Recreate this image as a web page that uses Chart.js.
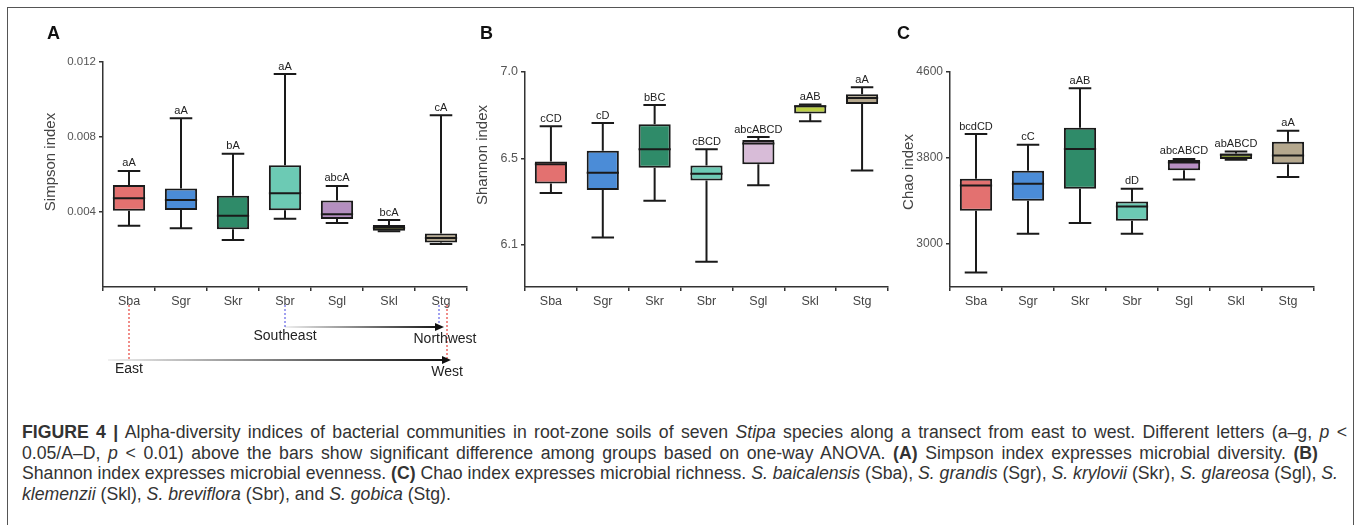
<!DOCTYPE html>
<html>
<head>
<meta charset="utf-8">
<script src="https://cdn.jsdelivr.net/npm/chart.js@4.4.1/dist/chart.umd.min.js"></script>
<style>
body { margin: 0; background: #fff; width: 1360px; height: 525px; overflow: hidden; position: relative; font-family: "Liberation Sans", Arial, sans-serif; }
#frame { position: absolute; left: 7px; top: 7px; width: 1347px; height: 560px; border: 1.5px solid #555; box-sizing: border-box; }
canvas { position: absolute; top: 0; }
.tag { position: absolute; top: 23px; font: bold 18px "Liberation Sans", Arial, sans-serif; color: #111; }
#caption { position: absolute; left: 22px; top: 422px; font-family: "Liberation Sans", Arial, sans-serif; font-size: 15px; color: #333; line-height: 20.5px; white-space: nowrap; }
#caption .cl { display: block; width: max-content; }
</style>
</head>
<body>
<div id="frame"></div>
<canvas id="chartA" width="490" height="400" style="left:0px"></canvas>
<canvas id="chartB" width="425" height="320" style="left:475px"></canvas>
<canvas id="chartC" width="450" height="320" style="left:900px"></canvas>
<div class="tag" style="left:47px">A</div>
<div class="tag" style="left:480px">B</div>
<div class="tag" style="left:897px">C</div>
<div id="caption">
<div class="cl" data-w="1325"><b>FIGURE 4 |</b> Alpha-diversity indices of bacterial communities in root-zone soils of seven <i>Stipa</i> species along a transect from east to west. Different letters (a–g, <i>p</i> &lt;</div>
<div class="cl" data-w="1296">0.05/A–D, <i>p</i> &lt; 0.01) above the bars show significant difference among groups based on one-way ANOVA. <b>(A)</b> Simpson index expresses microbial diversity. <b>(B)</b></div>
<div class="cl" data-w="1316">Shannon index expresses microbial evenness. <b>(C)</b> Chao index expresses microbial richness. <i>S. baicalensis</i> (Sba), <i>S. grandis</i> (Sgr), <i>S. krylovii</i> (Skr), <i>S. glareosa</i> (Sgl), <i>S.</i></div>
<div class="cl"><i>klemenzii</i> (Skl), <i>S. breviflora</i> (Sbr), and <i>S. gobica</i> (Stg).</div>
</div>
<script>
const groups = ["Sba", "Sgr", "Skr", "Sbr", "Sgl", "Skl", "Stg"];

// A - Simpson
const simpsonMin = [0.00327, 0.00313, 0.00251, 0.00364, 0.00341, 0.00297, 0.00229];
const simpsonQ1 = [0.00407, 0.00411, 0.00308, 0.0041, 0.00363, 0.003, 0.00238];
const simpsonMed = [0.00473, 0.00464, 0.0038, 0.005, 0.00388, 0.00316, 0.00261];
const simpsonQ3 = [0.00544, 0.00526, 0.00487, 0.0065, 0.00462, 0.00331, 0.00286];
const simpsonMax = [0.00619, 0.009, 0.00711, 0.01136, 0.00539, 0.00357, 0.00916];
const simpsonLetters = ["aA", "aA", "bA", "aA", "abcA", "bcA", "cA"];
const simpsonTicks = [0.004, 0.008, 0.012];
const simpsonTickLabels = ["0.004", "0.008", "0.012"];

// B - Shannon
const shannonMin = [6.369, 6.137, 6.329, 6.011, 6.409, 6.743, 6.487];
const shannonQ1 = [6.418, 6.385, 6.501, 6.434, 6.519, 6.783, 6.833];
const shannonMed = [6.519, 6.475, 6.597, 6.47, 6.627, 6.821, 6.864];
const shannonQ3 = [6.533, 6.59, 6.727, 6.512, 6.645, 6.826, 6.884];
const shannonMax = [6.717, 6.734, 6.828, 6.597, 6.661, 6.83, 6.92];
const shannonLetters = ["cCD", "cD", "bBC", "cBCD", "abcABCD", "aAB", "aA"];
const shannonTicks = [6.1, 6.55, 7.0];
const shannonTickLabels = ["6.1", "6.5", "7.0"];

// C - Chao
const chaoMin = [2736, 3096, 3195, 3096, 3601, 3784, 3623];
const chaoQ1 = [3310, 3403, 3514, 3217, 3685, 3791, 3741];
const chaoMed = [3545, 3561, 3884, 3350, 3759, 3831, 3824];
const chaoQ3 = [3607, 3682, 4082, 3396, 3781, 3843, 3952];
const chaoMax = [4023, 3924, 4448, 3514, 3791, 3861, 4054];
const chaoLetters = ["bcdCD", "cC", "aAB", "dD", "abcABCD", "abABCD", "aA"];
const chaoTicks = [3000, 3800, 4600];
const chaoTickLabels = ["3000", "3800", "4600"];

const colorsA = ["#e37170", "#4b8cd7", "#2f8b69", "#6ccab4", "#b48fc0", "#c8d84c", "#b5a88e"];
const colorsB = ["#e37170", "#4b8cd7", "#2f8b69", "#6ccab4", "#d8bcd8", "#bccf45", "#b5a88e"];
const colorsC = ["#e37170", "#4b8cd7", "#2f8b69", "#6ccab4", "#b890c4", "#8a9a3c", "#b5a88e"];

const ink = "#1a1a1a";
const sans = "Liberation Sans";

function dotted(ctx, x, y0, y1, color) {
    ctx.save();
    ctx.strokeStyle = color;
    ctx.lineWidth = 1.3;
    ctx.setLineDash([2, 2]);
    ctx.beginPath();
    ctx.moveTo(x, y0);
    ctx.lineTo(x, y1);
    ctx.stroke();
    ctx.restore();
}

function arrow(ctx, x0, x1, y) {
    ctx.save();
    const g = ctx.createLinearGradient(x0, 0, x1, 0);
    g.addColorStop(0, "rgba(0,0,0,0.06)");
    g.addColorStop(1, "#111");
    ctx.strokeStyle = g;
    ctx.lineWidth = 2;
    ctx.beginPath();
    ctx.moveTo(x0, y);
    ctx.lineTo(x1 - 4, y);
    ctx.stroke();
    ctx.fillStyle = "#111";
    ctx.beginPath();
    ctx.moveTo(x1, y);
    ctx.lineTo(x1 - 9, y - 4);
    ctx.lineTo(x1 - 9, y + 4);
    ctx.closePath();
    ctx.fill();
    ctx.restore();
}

function makeBoxPlugin(cfg) {
    return {
        id: "boxExtras",
        beforeDatasetsDraw(chart) {
            const ctx = chart.ctx;
            const y = chart.scales.y;
            const meta = chart.getDatasetMeta(0);
            ctx.save();
            ctx.strokeStyle = ink;
            ctx.lineWidth = 2;
            meta.data.forEach((bar, i) => {
                const cap = bar.width * 0.35;
                const yMax = y.getPixelForValue(cfg.max[i]);
                const yMin = y.getPixelForValue(cfg.min[i]);
                ctx.beginPath();
                ctx.moveTo(bar.x, y.getPixelForValue(cfg.q3[i]));
                ctx.lineTo(bar.x, yMax);
                ctx.moveTo(bar.x - cap, yMax);
                ctx.lineTo(bar.x + cap, yMax);
                ctx.moveTo(bar.x, y.getPixelForValue(cfg.q1[i]));
                ctx.lineTo(bar.x, yMin);
                ctx.moveTo(bar.x - cap, yMin);
                ctx.lineTo(bar.x + cap, yMin);
                ctx.stroke();
            });
            ctx.restore();
        },
        afterDatasetsDraw(chart) {
            const ctx = chart.ctx;
            const y = chart.scales.y;
            const meta = chart.getDatasetMeta(0);
            ctx.save();
            ctx.strokeStyle = ink;
            ctx.lineWidth = 2;
            ctx.fillStyle = "#222";
            ctx.font = '11px "' + sans + '"';
            ctx.textAlign = "center";
            ctx.textBaseline = "bottom";
            meta.data.forEach((bar, i) => {
                const ym = y.getPixelForValue(cfg.med[i]);
                ctx.beginPath();
                ctx.moveTo(bar.x - bar.width / 2, ym);
                ctx.lineTo(bar.x + bar.width / 2, ym);
                ctx.stroke();
                ctx.fillText(cfg.letters[i], bar.x, y.getPixelForValue(cfg.max[i]) - 2);
            });
            ctx.restore();
        },
        afterDraw(chart) {
            const ctx = chart.ctx;
            ctx.save();
            ctx.fillStyle = "#444";
            ctx.font = '15px "' + sans + '"';
            ctx.textAlign = "center";
            ctx.textBaseline = "middle";
            ctx.translate(cfg.titleX, cfg.titleY);
            ctx.rotate(-Math.PI / 2);
            ctx.fillText(cfg.title, 0, 0);
            ctx.restore();

            if (!cfg.arrows) return;
            const x = chart.scales.x;
            const b = chart.chartArea.bottom;
            const xE = x.getPixelForValue(0);
            const xSE = x.getPixelForValue(3);
            const xW = x.getPixelForValue(6);
            dotted(ctx, xE, b + 18, b + 73, "#e8504a");
            dotted(ctx, xSE, b + 18, b + 40, "#6f6fe8");
            dotted(ctx, xW - 2, b + 18, b + 38, "#6f6fe8");
            dotted(ctx, xW + 6, b + 18, b + 73, "#e8504a");
            arrow(ctx, xSE, xW + 3, b + 40);
            arrow(ctx, chart.chartArea.left + 5, xW + 10, b + 73);
            ctx.save();
            ctx.fillStyle = "#222";
            ctx.font = '14px "' + sans + '"';
            ctx.textAlign = "center";
            ctx.textBaseline = "middle";
            ctx.fillText("Southeast", xSE, b + 49);
            ctx.fillText("Northwest", xW + 4, b + 52);
            ctx.fillText("East", xE, b + 82);
            ctx.fillText("West", xW + 6, b + 85);
            ctx.restore();
        }
    };
}

function boxChart(id, cfg) {
    const ctx = document.getElementById(id).getContext("2d");
    return new Chart(ctx, {
        type: "bar",
        data: {
            labels: groups,
            datasets: [{
                data: cfg.q1.map((v, i) => [v, cfg.q3[i]]),
                backgroundColor: cfg.colors,
                borderColor: ink,
                borderWidth: 2,
                borderSkipped: false,
                barPercentage: 0.62,
                categoryPercentage: 1
            }]
        },
        options: {
            responsive: false,
            animation: false,
            layout: { padding: { left: 0, right: cfg.padRight, top: cfg.padTop, bottom: cfg.padBottom } },
            plugins: { legend: { display: false }, tooltip: { enabled: false } },
            scales: {
                x: {
                    grid: { drawOnChartArea: false, tickLength: 4, color: "#333", lineWidth: 1.5 },
                    border: { color: "#333", width: 1.5 },
                    ticks: { font: { family: sans, size: 12.5 }, color: "#444", padding: 3, maxRotation: 0 },
                    afterFit: function(s) { s.height = 30; }
                },
                y: {
                    min: cfg.yMin,
                    max: cfg.yMax,
                    grid: { drawOnChartArea: false, tickLength: 4, color: "#333", lineWidth: 1.5 },
                    border: { color: "#333", width: 1.5 },
                    ticks: {
                        font: { family: sans, size: cfg.tickSize },
                        color: "#555",
                        padding: 3,
                        callback: function(v, i) { return cfg.tickLabels[i]; }
                    },
                    afterBuildTicks: function(s) { s.ticks = cfg.ticks.map(v => ({ value: v })); },
                    afterFit: function(s) { s.width = cfg.yWidth; }
                }
            }
        },
        plugins: [makeBoxPlugin(cfg)]
    });
}

boxChart("chartA", {
    min: simpsonMin, q1: simpsonQ1, med: simpsonMed, q3: simpsonQ3, max: simpsonMax,
    letters: simpsonLetters, ticks: simpsonTicks, tickLabels: simpsonTickLabels,
    colors: colorsA, yMin: 0, yMax: 0.012, tickSize: 11.5,
    yWidth: 103, padRight: 23, padTop: 62, padBottom: 83,
    title: "Simpson index", titleX: 51, titleY: 162, arrows: true
});
boxChart("chartB", {
    min: shannonMin, q1: shannonQ1, med: shannonMed, q3: shannonQ3, max: shannonMax,
    letters: shannonLetters, ticks: shannonTicks, tickLabels: shannonTickLabels,
    colors: colorsB, yMin: 5.879, yMax: 7.0, tickSize: 12.5,
    yWidth: 50, padRight: 12, padTop: 72, padBottom: 3,
    title: "Shannon index", titleX: 8, titleY: 155
});
boxChart("chartC", {
    min: chaoMin, q1: chaoQ1, med: chaoMed, q3: chaoQ3, max: chaoMax,
    letters: chaoLetters, ticks: chaoTicks, tickLabels: chaoTickLabels,
    colors: colorsC, yMin: 2600, yMax: 4600, tickSize: 12,
    yWidth: 50, padRight: 36, padTop: 72, padBottom: 3,
    title: "Chao index", titleX: 9, titleY: 172
});

// size the caption so no line overruns, then spread words to the figure's line ends
const cap = document.getElementById("caption");
const lines = Array.from(cap.querySelectorAll(".cl[data-w]"));
const scale = Math.min(...lines.map(l => +l.dataset.w / l.getBoundingClientRect().width));
cap.style.fontSize = (15 * scale).toFixed(2) + "px";
lines.forEach(l => {
    const gap = +l.dataset.w - l.getBoundingClientRect().width;
    const spaces = (l.textContent.trim().match(/ /g) || []).length;
    if (gap > 0 && spaces) l.style.wordSpacing = (gap / spaces).toFixed(3) + "px";
});
</script>
</body>
</html>
